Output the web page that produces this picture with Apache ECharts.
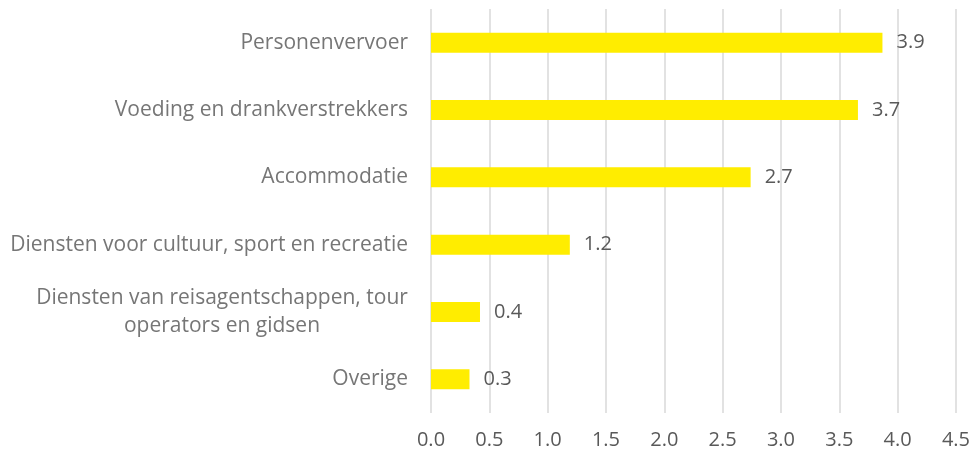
<!DOCTYPE html>
<html>
<head>
<meta charset="utf-8">
<script src="https://cdn.jsdelivr.net/npm/echarts@6/dist/echarts.min.js"></script>
<style>
  html, body { margin: 0; padding: 0; background: #fff; }
</style>
</head>
<body>
<div id="main" style="width: 973px; height: 456px;"></div>
<script>
var categories = [
  'Personenvervoer',
  'Voeding en drankverstrekkers',
  'Accommodatie',
  'Diensten voor cultuur, sport en recreatie',
  'Diensten van reisagentschappen, tour\noperators en gidsen',
  'Overige'
];
var values = [3.87, 3.66, 2.74, 1.19, 0.42, 0.33];
var xTicks = [0, 4.5, 0.5];

var myChart = echarts.init(document.getElementById('main'));
var font = '"Open Sans", "Noto Sans", sans-serif';
var catSize = 21;
var numSize = 20;

// wrapped labels are centred line by line, like Excel does
var ctx = document.createElement('canvas').getContext('2d');
ctx.font = catSize + 'px ' + font;
function lineWidth(s) { return Math.ceil(ctx.measureText(s).width); }
var wrapWidth = 0;
categories.forEach(function (c) {
  var lines = c.split('\n');
  if (lines.length > 1) wrapWidth = Math.max(wrapWidth, Math.max.apply(null, lines.map(lineWidth)));
});

var option = {
  animation: false,
  grid: { left: 431, right: 17, top: 9, bottom: 43 },
  xAxis: {
    type: 'value',
    min: xTicks[0],
    max: xTicks[1],
    interval: xTicks[2],
    axisLine: { show: false },
    axisTick: { show: false },
    splitLine: { lineStyle: { color: '#d9d9d9', width: 1.5 } },
    axisLabel: {
      color: '#595959',
      fontFamily: font,
      fontSize: numSize,
      margin: 17,
      formatter: function (v) { return v.toFixed(1); }
    }
  },
  yAxis: {
    type: 'category',
    data: categories,
    inverse: true,
    axisLine: { show: false },
    axisTick: { show: false },
    axisLabel: {
      color: '#767676',
      fontFamily: font,
      fontSize: catSize,
      margin: 23,
      lineHeight: 28,
      align: 'right',
      formatter: function (v) {
        var lines = v.split('\n');
        if (lines.length < 2) return v;
        return lines.map(function (l) { return '{c|' + l + '}'; }).join('\n');
      },
      rich: {
        c: { align: 'center', width: wrapWidth, fontFamily: font, fontSize: catSize, color: '#767676', lineHeight: 28 }
      }
    }
  },
  series: [
    {
      type: 'bar',
      data: values,
      barWidth: 20,
      itemStyle: { color: '#ffed00' },
      label: {
        show: true,
        position: 'right',
        distance: 14,
        color: '#595959',
        fontFamily: font,
        fontSize: numSize,
        formatter: function (p) { return p.value.toFixed(1); }
      }
    }
  ]
};
option && myChart.setOption(option);
</script>
</body>
</html>
